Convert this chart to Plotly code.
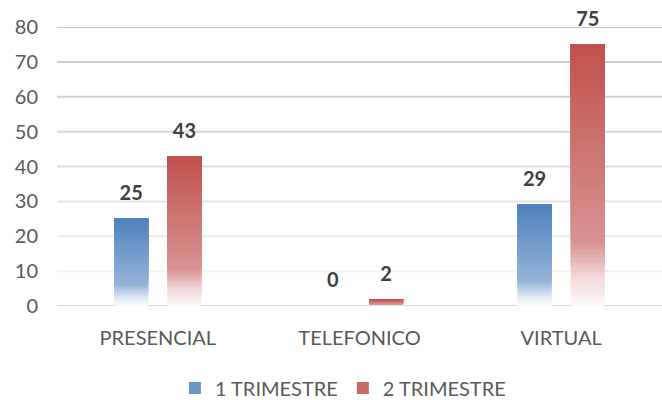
import plotly.graph_objects as go

# ---- data ----
categories = ["PRESENCIAL", "TELEFONICO", "VIRTUAL"]
series_names = ["1 TRIMESTRE", "2 TRIMESTRE"]
q1_values = [25, 0, 29]
q2_values = [43, 2, 75]
y_ticks = [0, 10, 20, 30, 40, 50, 60, 70, 80]

# ---- styles ----
FONT = "Lato"
blue_stops = [(0.0, (250, 252, 254)), (0.10, (221, 231, 243)), (0.24, (150, 180, 216)), (1.0, (79, 129, 189))]
red_stops = [(0.0, (253, 247, 247)), (0.10, (243, 222, 221)), (0.24, (216, 148, 146)), (1.0, (192, 80, 77))]
N_BANDS = 60
LABEL_PAD = 3.3  # gap (axis units) between bar top and its value label


def lerp_color(stops, f):
    for (f0, c0), (f1, c1) in zip(stops[:-1], stops[1:]):
        if f <= f1:
            t = (f - f0) / (f1 - f0) if f1 > f0 else 0
            c = [round(a + (b - a) * t) for a, b in zip(c0, c1)]
            return "rgb(%d,%d,%d)" % tuple(c)
    return "rgb(%d,%d,%d)" % stops[-1][1]


def mix(c0, c1, t):
    c = [round(a + (b - a) * t) for a, b in zip(c0, c1)]
    return "rgb(%d,%d,%d)" % tuple(c)


fig = go.Figure()

for sname, vals, stops, grp in [
    (series_names[0], q1_values, blue_stops, "q1"),
    (series_names[1], q2_values, red_stops, "q2"),
]:
    for k in range(N_BANDS):
        f0 = k / N_BANDS
        color = lerp_color(stops, (k + 0.5) / N_BANDS)
        legend_band = k == int(N_BANDS * 0.7)
        fig.add_trace(go.Bar(
            x=categories,
            y=[v * (1 - f0) for v in vals],
            base=[v * f0 for v in vals],
            offsetgroup=grp,
            legendgroup=grp,
            name=sname,
            showlegend=legend_band,
            marker=dict(color=color, line=dict(width=0)),
            hoverinfo="skip",
        ))
    # invisible spacer on top of each bar that carries the value label
    fig.add_trace(go.Bar(
        x=categories,
        y=[LABEL_PAD] * len(vals),
        base=vals,
        offsetgroup=grp,
        legendgroup=grp,
        showlegend=False,
        marker=dict(color="rgba(0,0,0,0)", line=dict(width=0)),
        hoverinfo="skip",
        text=[str(v) for v in vals],
        textposition="outside",
        outsidetextfont=dict(family=FONT, size=20, color="#404040", weight="bold"),
        constraintext="none",
        cliponaxis=False,
    ))

# gridlines (slightly darker toward the top, as in the reference)
shapes = []
for t in y_ticks:
    if t == 0:
        col = "rgb(217,217,217)"
    else:
        col = mix((242, 242, 242), (196, 196, 196), (t - 10) / 70)
    shapes.append(dict(type="line", xref="paper", yref="y", x0=0, x1=1, y0=t, y1=t,
                       line=dict(color=col, width=2), layer="below"))

fig.update_layout(
    width=662, height=400,
    margin=dict(l=57, r=0, t=27, b=94, autoexpand=False),
    paper_bgcolor="white", plot_bgcolor="white",
    barmode="group", bargap=0.472, bargroupgap=0.364,
    font=dict(family=FONT, size=20, color="#595959"),
    shapes=shapes,
    showlegend=True,
    legend=dict(orientation="h", xref="container", yref="container",
                x=0.518, xanchor="center", y=0.03, yanchor="middle",
                font=dict(family=FONT, size=20, color="#595959"),
                traceorder="normal", itemclick=False),
    xaxis=dict(type="category", range=[-0.5, 2.5], showgrid=False, showline=False, automargin=False,
               ticks="", ticklabelstandoff=18, tickfont=dict(family=FONT, size=20, color="#595959")),
    yaxis=dict(range=[0, 80], tickvals=y_ticks, showgrid=False, zeroline=False, showline=False,
               automargin=False,
               ticks="", ticklabelstandoff=18, tickfont=dict(family=FONT, size=20, color="#595959")),
)

fig.write_html("out.html", config={"displayModeBar": False},
               post_script="document.body.style.margin='0';document.body.style.padding='0';")
